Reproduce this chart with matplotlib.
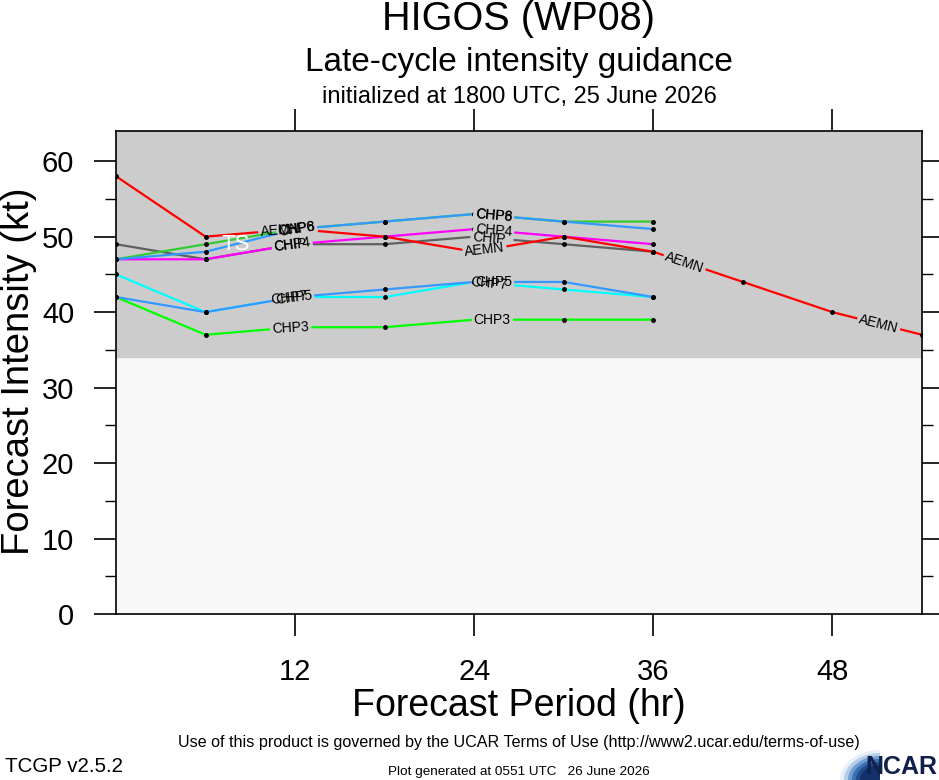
import numpy as np
import matplotlib
matplotlib.use('Agg')
import matplotlib.pyplot as plt
from matplotlib.patches import Polygon

plt.rcParams['font.family'] = ['Liberation Sans', 'DejaVu Sans']

# forecast hours and intensities (kt)
HOURS = [0, 6, 12, 18, 24, 30, 36]
AEMN_HOURS = [0, 6, 12, 18, 24, 30, 36, 42, 48, 54]
AEMN = [58, 50, 51, 50, 48, 50, 48, 44, 40, 37]
CHP6 = [47, 49, 51, 52, 53, 52, 52]
CHP8 = [47, 48, 51, 52, 53, 52, 51]
CHP4 = [47, 47, 49, 50, 51, 50, 49]
CHIP = [49, 47, 49, 49, 50, 49, 48]
CHP5 = [42, 40, 42, 43, 44, 44, 42]
CHP7 = [45, 40, 42, 42, 44, 43, 42]
CHP3 = [42, 37, 38, 38, 39, 39, 39]

TS_LIMIT = 34

# name, hours, values, colour, where along the line the labels sit (hr)
series = [
    ('CHIP', HOURS, CHIP, '#606060', [11.7, 25.0]),
    ('CHP3', HOURS, CHP3, '#00ff00', [11.7, 25.2]),
    ('CHP7', HOURS, CHP7, '#00ffff', [11.6, 25.0]),
    ('CHP5', HOURS, CHP5, '#3399ff', [11.9, 25.3]),
    ('CHP4', HOURS, CHP4, '#ff00ff', [11.8, 25.3]),
    ('AEMN', AEMN_HOURS, AEMN, '#ff0000', [11.0, 24.7, 38.1, 51.1]),
    ('CHP6', HOURS, CHP6, '#33cc33', [12.1, 25.3]),
    ('CHP8', HOURS, CHP8, '#3399ff', [12.1, 25.3]),
]

fig = plt.figure(figsize=(9.39, 7.8), dpi=100)
ax = fig.add_axes([116 / 939, 1 - 614 / 780, (922 - 116) / 939, (614 - 131) / 780])
ax.set_xlim(0, 54)
ax.set_ylim(0, 64)

ax.axhspan(0, TS_LIMIT, color='#f8f8f8', zorder=0)
ax.axhspan(TS_LIMIT, 64, color='#cccccc', zorder=0)
ax.text(8.0, 49, 'TS', color='white', fontsize=16, ha='center', va='center', zorder=200)

z = 2
for name, hrs, vals, col, spots in series:
    ax.plot(hrs, vals, color=col, lw=1.6, zorder=z)
    ax.plot(hrs, vals, 'o', color='black', ms=2.5, zorder=z + 0.5)
    for s in spots:
        v = np.interp(s, hrs, vals)
        p0 = ax.transData.transform((s - 1, np.interp(s - 1, hrs, vals)))
        p1 = ax.transData.transform((s + 1, np.interp(s + 1, hrs, vals)))
        ang = np.degrees(np.arctan2(p1[1] - p0[1], p1[0] - p0[0]))
        # blank box cuts a gap in this line only; the words go on top of everything
        ax.text(s, v, name, fontsize=10, ha='center', va='center', rotation=ang,
                rotation_mode='anchor', zorder=z + 0.7, color='none',
                bbox=dict(boxstyle='square,pad=0.15', fc='#cccccc', ec='none'))
        ax.text(s, v, name, fontsize=10, ha='center', va='center', rotation=ang,
                rotation_mode='anchor', zorder=100)
    z += 1

ax.set_xticks([12, 24, 36, 48])
ax.set_yticks(range(0, 61, 10))
ax.set_yticks(range(5, 64, 10), minor=True)
ax.tick_params(axis='both', which='major', direction='out', length=16, width=1.2,
               labelsize=21, top=True, right=True)
ax.tick_params(axis='x', which='major', pad=16)
ax.tick_params(axis='y', which='major', pad=14)
ax.tick_params(axis='y', which='minor', direction='out', length=8, width=1.0,
               left=True, right=True)
for sp in ax.spines.values():
    sp.set_linewidth(1.2)

cx = (116 + 922) / 2 / 939
fig.text(cx, 1 - 706 / 780, 'Forecast Period (hr)', fontsize=27, ha='center', va='center')
fig.text(19 / 939, 1 - 371 / 780, 'Forecast Intensity (kt)', fontsize=27.5, rotation=90,
         ha='center', va='center')

fig.text(cx, 1 - 19 / 780, 'HIGOS (WP08)', fontsize=28.5, ha='center', va='center')
fig.text(cx, 1 - 63 / 780, 'Late-cycle intensity guidance', fontsize=24, ha='center', va='center')
fig.text(cx, 1 - 97 / 780, 'initialized at 1800 UTC, 25 June 2026', fontsize=17, ha='center', va='center')

fig.text(cx, 1 - 742 / 780, 'Use of this product is governed by the UCAR Terms of Use (http://www2.ucar.edu/terms-of-use)',
         fontsize=11.6, ha='center', va='center')
fig.text(5 / 939, 1 - 766 / 780, 'TCGP v2.5.2', fontsize=14.8, ha='left', va='center')
fig.text(cx, 1 - 772 / 780, 'Plot generated at 0551 UTC   26 June 2026', fontsize=9.7, ha='center', va='center')

# NCAR logo, roughly: a swoosh shaded from light (arc) to dark navy (corner), then the letters
th = np.linspace(0, np.pi / 2, 40)
corner = np.array([880.0, 780.0])
arc = np.column_stack([840 + 40 * (1 - np.cos(th)), 780 - 30 * np.sin(th)])
shades = ['#e8eff8', '#b5cde8', '#6f9fd2', '#3a6fb0', '#1f4a8a', '#14306a']
for k, c in enumerate(shades):
    f = 1.0 - k * 0.1
    a = corner + (arc - corner) * f
    pts = np.vstack([a, corner])
    pts = np.column_stack([pts[:, 0] / 939, 1 - pts[:, 1] / 780])
    fig.patches.append(Polygon(pts, closed=True, transform=fig.transFigure, fc=c, ec='none'))
fig.text(937 / 939, 1 - 767 / 780, 'NCAR', fontsize=18, fontweight='bold', color='#10204a',
         ha='right', va='center')

fig.savefig('out.png', dpi=100)
